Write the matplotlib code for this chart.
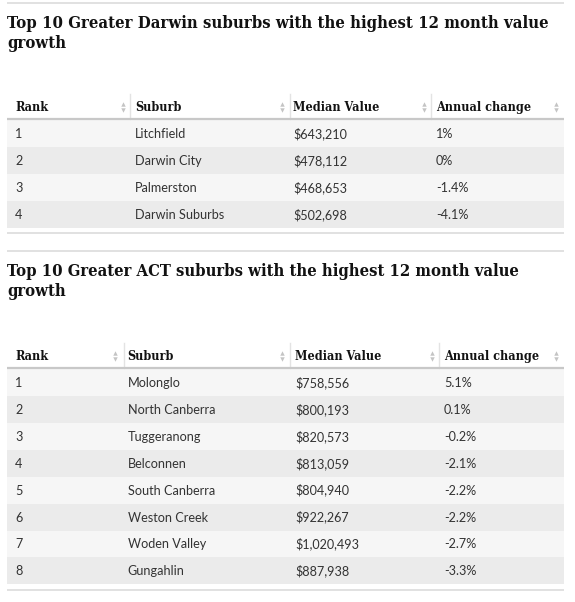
import matplotlib
matplotlib.use("Agg")
import matplotlib.pyplot as plt

# ---- data ----
titles = [
    ["Top 10 Greater Darwin suburbs with the highest 12 month value", "growth"],
    ["Top 10 Greater ACT suburbs with the highest 12 month value", "growth"],
]
headers = ["Rank", "Suburb", "Median Value", "Annual change"]

darwin_rank = ["1", "2", "3", "4"]
darwin_suburb = ["Litchfield", "Darwin City", "Palmerston", "Darwin Suburbs"]
darwin_value = ["$643,210", "$478,112", "$468,653", "$502,698"]
darwin_change = ["1%", "0%", "-1.4%", "-4.1%"]

act_rank = ["1", "2", "3", "4", "5", "6", "7", "8"]
act_suburb = ["Molonglo", "North Canberra", "Tuggeranong", "Belconnen",
              "South Canberra", "Weston Creek", "Woden Valley", "Gungahlin"]
act_value = ["$758,556", "$800,193", "$820,573", "$813,059",
             "$804,940", "$922,267", "$1,020,493", "$887,938"]
act_change = ["5.1%", "0.1%", "-0.2%", "-2.1%", "-2.2%", "-2.2%", "-2.7%", "-3.3%"]

W, H = 575, 602
fig = plt.figure(figsize=(W / 100, H / 100), dpi=100)
ax = fig.add_axes([0, 0, 1, 1])
ax.set_xlim(0, W)
ax.set_ylim(H, 0)
ax.axis("off")

PT = 0.72  # px -> pt
SERIF = dict(family="DejaVu Serif", stretch="condensed", weight="bold")
BODY_FONT = "Lato"

fig.canvas.draw()
renderer = fig.canvas.get_renderer()


def fit_text(x, y, s, target_w, size, **kw):
    t = ax.text(x, y, s, fontsize=size, **kw)
    w = t.get_window_extent(renderer).width
    t.set_fontsize(size * target_w / w)
    return t


def section(top, title, title_w, head_line, col_x, sep_x, arrow_x, cols, bottom_line):
    L, R = 7, 564
    ax.plot([L, R], [top, top], color="#dcdcdc", lw=1.2, solid_capstyle="butt")
    t1 = fit_text(L, top + 24.5, title[0], title_w, 14.5, color="#121212",
                  va="baseline", **SERIF)
    ax.text(L, top + 45.5, title[1], fontsize=t1.get_fontsize(), color="#121212",
            va="baseline", **SERIF)
    # header
    head_y = head_line - 12.5
    for x, h in zip(col_x, headers):
        ax.text(x, head_y + 4.3, h, fontsize=12.5 * PT, color="#121212",
                va="baseline", **SERIF)
    for x in sep_x:
        ax.plot([x, x], [head_line - 25, head_line], color="#e3e3e3", lw=1)
    for x in arrow_x:
        ax.plot([x], [head_y - 3], marker="^", ms=3.2, color="#c4c4c4", mec="none")
        ax.plot([x], [head_y + 3], marker="v", ms=3.2, color="#c4c4c4", mec="none")
    ax.plot([L, R], [head_line, head_line], color="#c8c8c8", lw=1.6,
            solid_capstyle="butt")
    n = len(cols[0])
    y0 = head_line + 0.8
    rh = 26.9
    for i in range(n):
        c = "#f6f6f6" if i % 2 == 0 else "#ebebeb"
        ax.add_patch(plt.Rectangle((L, y0 + i * rh), R - L, rh, color=c, lw=0))
        for x, col in zip(col_x, cols):
            ax.text(x, y0 + i * rh + rh / 2 + 4.5, col[i], fontsize=12.6 * PT,
                    family=BODY_FONT, color="#333333", va="baseline")
    ax.plot([L, R], [bottom_line, bottom_line], color="#dcdcdc", lw=1.2,
            solid_capstyle="butt")


section(3, titles[0], 538, 119.3, [15, 135, 293, 436], [130, 290, 431],
        [123, 282, 424, 556],
        [darwin_rank, darwin_suburb, darwin_value, darwin_change], 233.3)
section(251, titles[1], 512, 368.3, [15, 127.5, 295, 444], [124, 290, 439],
        [115, 282, 432, 556],
        [act_rank, act_suburb, act_value, act_change], 590)

fig.savefig("out.png", dpi=100, facecolor="white")
